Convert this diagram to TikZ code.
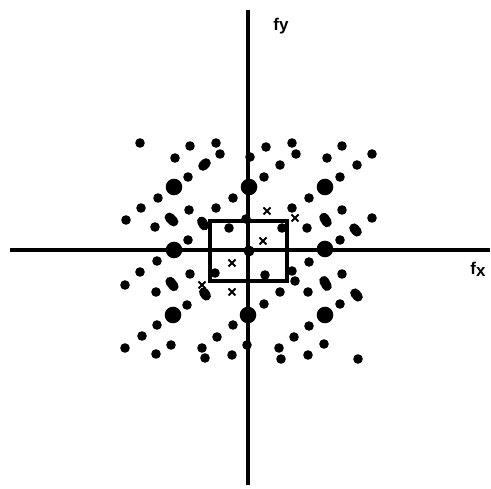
\documentclass[tikz,border=0pt]{standalone}
\usetikzlibrary{calc}
\usepackage{fontspec}
\setmainfont{Liberation Sans}
\begin{document}
\begin{tikzpicture}[x=1pt,y=-1pt,
  axisline/.style={line width=3.2pt},
  boxline/.style={line width=3.4pt},
  lbl/.style={font=\bfseries\fontsize{17}{17}\selectfont, inner sep=0pt}]
\useasboundingbox (0,0) rectangle (491,489);
% axes
\draw[axisline] (10,250) -- (490,250);
\draw[axisline] (248,10) -- (248,485);
\node[lbl] (fy) at (281,26) {fy};
\node[lbl] (fx) at (478,269) {f\raisebox{-2pt}{x}};
% box
\draw[boxline] (210,221) rectangle (287,281);
% large dots
\foreach \p in {(174,187),(249,187),(325,187),(174,250),(325,249),(173,315),(248,315),(325,315)}
  \fill \p circle (8.3);
\fill (249,251) circle (5.5);
% small dots
\foreach \p in {
 (140,143),(190,146),(216,143),(220,154),(175,158),(188,177),(158,198),(233,198),
 (141,208),(189,210),(216,208),(126,220),(155,227),(229,228),(188,240),(250,157),(246,219),
 (266,147),(292,143),(296,154),(342,146),(372,154),(280,165),(327,158),(357,165),
 (264,177),(340,177),(309,198),(292,208),(342,210),(372,218),(307,228),(340,240),(282,228),
 (157,261),(140,272),(125,285),(190,274),(156,292),(215,273),(187,305),(157,325),(233,325),
 (142,336),(217,337),(125,348),(171,345),(202,348),(205,358),(156,354),(232,355),(247,345),
 (309,262),(265,275),(292,271),(295,281),(280,292),(308,292),(342,274),(264,304),(340,304),
 (309,326),(294,337),(324,344),(279,348),(281,359),(308,355),(358,359)}
  \fill \p circle (4.8);
% elongated (double) dots
\foreach \ax/\ay/\bx/\by in {
 202/167/207/162, 168/216/175/223, 201/220/205/227,
 323/216/328/224, 353/227/358/233, 169/280/175/288,
 203/291/207/297, 323/279/328/288, 354/292/359/298}
  \draw[line width=9.6pt, line cap=round] ($(\ax,\ay)!0.2!(\bx,\by)$) -- ($(\ax,\ay)!0.8!(\bx,\by)$);
% x marks
\foreach \p in {(267,211),(263,241),(295,218),(232,263),(202,285),(232,292),(249,251)}
  \draw[line width=2pt] \p ++(-3.5,-3.5) -- ++(7,7) \p ++(-3.5,3.5) -- ++(7,-7);
\end{tikzpicture}
\end{document}
